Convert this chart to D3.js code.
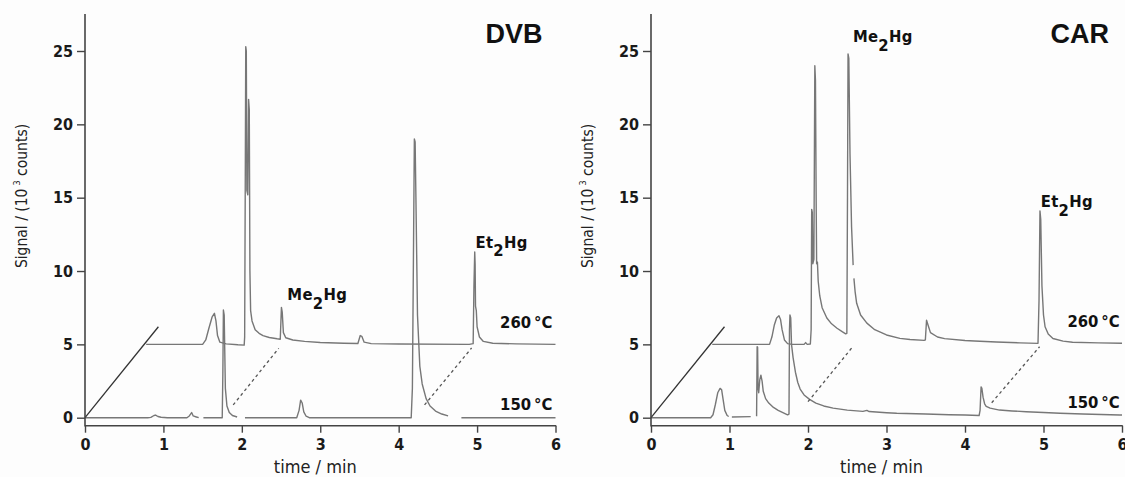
<!DOCTYPE html>
<html>
<head>
<meta charset="utf-8">
<script src="https://cdn.jsdelivr.net/npm/d3@7"></script>
<style>
  html, body { margin: 0; padding: 0; background: #fdfdfd; }
  svg { display: block; }
</style>
</head>
<body>
<svg id="chart" width="1125" height="477"></svg>
<script>
// ---- Data: chromatograms as [time (min), signal (10^3 counts)] ----
const timeTicks = [0, 1, 2, 3, 4, 5, 6];
const signalTicks = [0, 5, 10, 15, 20, 25];

// DVB fibre, desorbed at 260 °C (offset trace, baseline 5)
const dvb260 = [[
  [0.78,5.0],[1.50,5.0],[1.54,5.3],[1.58,6.1],[1.62,6.85],[1.65,7.12],[1.67,6.6],[1.69,5.6],
  [1.72,5.15],[1.80,5.03],[1.95,4.97],[2.03,4.95],[2.036,5.5],[2.043,15],[2.05,25.3],[2.057,25.0],
  [2.064,15.5],[2.076,15.2],[2.086,21.7],[2.095,21.0],[2.103,10],[2.112,7.3],[2.13,6.6],[2.17,6.0],
  [2.22,5.75],[2.27,5.6],[2.35,5.47],[2.45,5.38],[2.49,5.35],[2.505,7.52],[2.515,7.2],[2.53,5.8],
  [2.56,5.45],[2.65,5.3],[2.8,5.2],[3.0,5.13],[3.3,5.08],[3.48,5.06],[3.51,5.6],[3.53,5.55],
  [3.56,5.15],[3.65,5.05],[4.0,5.02],[4.9,5.0],[4.95,5.05],[4.96,9.0],[4.97,11.3],[4.975,10.5],
  [4.98,7.6],[4.99,7.3],[5.0,6.2],[5.03,5.5],[5.08,5.2],[5.2,5.08],[5.5,5.03],[6.0,5.0]
]];

// DVB fibre, desorbed at 150 °C (segments separated by gaps)
const dvb150 = [
  [[0,0],[0.8,0],[0.84,0.02],[0.88,0.15],[0.9,0.18],[0.93,0.08],[0.97,0.03],[1.05,0],[1.3,0],
   [1.33,0.12],[1.36,0.35],[1.38,0.12],[1.42,0.05],[1.45,0]],
  [[1.51,0],[1.75,0],[1.758,3],[1.765,7.34],[1.775,7.0],[1.79,2.0],[1.81,0.8],[1.84,0.35],
   [1.88,0.15],[1.94,0.05]],
  [[2.04,0],[2.7,0],[2.73,0.5],[2.75,1.2],[2.77,1.0],[2.79,0.4],[2.82,0.1],[2.86,0],[4.16,0],
   [4.175,2],[4.19,12],[4.2,19.0],[4.21,18.8],[4.22,15],[4.24,7],[4.27,3.5],[4.3,2.3],[4.35,1.3],
   [4.4,0.8],[4.47,0.45],[4.55,0.25],[4.63,0.12]],
  [[4.8,0],[6.0,0]]
];

// CAR fibre, desorbed at 260 °C
const car260 = [
  [[0.78,5.0],[1.51,5.0],[1.54,5.5],[1.57,6.3],[1.60,6.8],[1.63,6.95],[1.65,6.7],[1.67,6.0],
   [1.70,5.3],[1.74,5.05],[1.80,5.0],[1.95,5.0],[1.97,5.12],[1.99,5.0],[2.03,5.02],[2.04,6.0],
   [2.047,14.2],[2.055,14.0],[2.062,10.5],[2.075,10.8],[2.087,24.0],[2.095,23.0],[2.105,14.0],
   [2.11,10.5],[2.12,10.6],[2.13,9.3],[2.15,8.3],[2.18,7.5],[2.24,6.8],[2.3,6.4],[2.37,6.1],
   [2.44,5.85],[2.48,5.72],[2.495,5.75],[2.503,15],[2.51,24.8],[2.52,24.5],[2.535,18],
   [2.555,13],[2.575,10.4]],
  [[2.585,9.5],[2.6,8.6],[2.62,7.8],[2.67,7.0],[2.75,6.45],[2.85,6.0],[3.0,5.64],[3.17,5.41],
   [3.3,5.33],[3.48,5.27],[3.495,5.3],[3.51,6.64],[3.53,6.3],[3.56,5.8],[3.65,5.5],[3.74,5.39],
   [4.0,5.26],[4.12,5.23],[4.4,5.16],[4.7,5.1],[4.93,5.07],[4.943,8],[4.955,14.1],[4.965,13.5],
   [4.98,9],[5.0,7.0],[5.02,6.2],[5.06,5.7],[5.12,5.4],[5.25,5.22],[5.37,5.14],[5.7,5.1],[6.0,5.08]]
];

// CAR fibre, desorbed at 150 °C
const car150 = [
  [[0,0],[0.76,0],[0.79,0.2],[0.82,0.9],[0.85,1.7],[0.88,2.0],[0.9,1.9],[0.92,1.2],[0.94,0.5],
   [0.97,0.15],[0.99,0.08]],
  [[1.03,0.05],[1.27,0.07]],
  [[1.345,0.1],[1.352,4.84],[1.358,4.8],[1.364,2.0],[1.372,1.7],[1.386,2.6],[1.40,2.9],[1.415,2.5],
   [1.43,1.8],[1.46,1.3],[1.5,1.0],[1.56,0.7],[1.62,0.5],[1.68,0.35],[1.74,0.2],[1.758,0.25],
   [1.764,6],[1.77,7.0],[1.78,6.8],[1.79,5.0],[1.81,4.1],[1.84,3.1],[1.87,2.4],[1.9,1.95],
   [1.95,1.55],[2.02,1.25],[2.1,1.0],[2.2,0.8],[2.32,0.65],[2.5,0.52],[2.7,0.43],[2.75,0.5],
   [2.78,0.42],[3.0,0.34],[3.13,0.3],[3.5,0.25],[3.8,0.2],[4.0,0.18],[4.18,0.15],[4.192,0.5],
   [4.205,2.1],[4.215,2.0],[4.23,1.4],[4.25,0.95],[4.27,0.78],[4.32,0.65],[4.44,0.52],[4.6,0.46],
   [4.78,0.41],[5.0,0.35],[5.21,0.3],[5.5,0.25],[5.97,0.18],[6.0,0.18]]
];

// Offset guide (origin of the 150 °C trace to the 260 °C trace start)
const offsetGuide = [[0,0],[0.936,6.2]];

// Dashed links between the same compound in both traces
const dvbLinks = [[[1.89,0.87],[2.47,4.73]], [[4.33,0.87],[4.93,4.75]]];
const carLinks = [[[2.0,1.09],[2.57,4.84]], [[4.34,1.02],[4.95,4.84]]];

// ---- Layout ----
const svg = d3.select("#chart");
const panels = [
  { title: "DVB", left: 85, right: 555.5, hot: dvb260, cold: dvb150, links: dvbLinks,
    me: [2.58, 8.0], et: [4.98, 11.6], t260: [5.96, 6.1], t150: [5.96, 0.52] },
  { title: "CAR", left: 651, right: 1122, hot: car260, cold: car150, links: carLinks,
    me: [2.572, 25.6], et: [4.965, 14.35], t260: [5.97, 6.2], t150: [5.97, 0.68] }
];

const axisY = 425.7, axisTop = 14;
const tickFont = "'DejaVu Sans Condensed', 'DejaVu Sans', sans-serif";

panels.forEach(p => {
  const x = d3.scaleLinear().domain([0, 6]).range([p.left, p.right]);
  const y = d3.scaleLinear().domain([0, 25]).range([417.7, 51]);
  const g = svg.append("g");
  const line = d3.line().x(d => x(d[0])).y(d => y(d[1]));

  // traces
  [...p.hot, ...p.cold].forEach(seg => {
    g.append("path").attr("d", line(seg))
      .attr("fill", "none").attr("stroke", "#777")
      .attr("stroke-width", 1.4).attr("stroke-linejoin", "round");
  });

  // offset guide line
  g.append("path").attr("d", line(offsetGuide))
    .attr("fill", "none").attr("stroke", "#333").attr("stroke-width", 1.3);

  // dashed links
  p.links.forEach(l => {
    g.append("path").attr("d", line(l))
      .attr("fill", "none").attr("stroke", "#555")
      .attr("stroke-width", 1.3).attr("stroke-dasharray", "3,3");
  });

  // y axis
  const ya = g.append("g").attr("transform", `translate(${p.left},0)`)
    .call(d3.axisLeft(y).tickValues(signalTicks).tickSize(8).tickPadding(4));
  ya.select(".domain").remove();
  // x axis
  const xa = g.append("g").attr("transform", `translate(0,${axisY})`)
    .call(d3.axisBottom(x).tickValues(timeTicks).tickFormat(d3.format("d")).tickSize(7).tickPadding(6));
  xa.select(".domain").remove();
  [ya, xa].forEach(a => {
    a.selectAll("line").attr("stroke", "#444").attr("stroke-width", 1.4);
    a.selectAll("text").attr("fill", "#1a1a1a")
      .style("font-family", tickFont).style("font-weight", "bold").style("font-size", "16px");
  });
  g.append("line").attr("x1", p.left).attr("x2", p.left).attr("y1", axisTop).attr("y2", axisY + 0.7)
    .attr("stroke", "#444").attr("stroke-width", 1.6);
  g.append("line").attr("x1", p.left).attr("x2", p.right + 0.7).attr("y1", axisY).attr("y2", axisY)
    .attr("stroke", "#444").attr("stroke-width", 1.6);

  // axis titles
  g.append("text").attr("x", (p.left + p.right) / 2 - 5).attr("y", 473)
    .attr("text-anchor", "middle").attr("fill", "#222")
    .style("font-family", tickFont).style("font-size", "18px").text("time / min");
  const yl = g.append("text")
    .attr("transform", `translate(${p.left - 58},196) rotate(-90)`)
    .attr("text-anchor", "middle").attr("fill", "#222")
    .style("font-family", tickFont).style("font-size", "15.5px");
  yl.append("tspan").text("Signal / (10");
  yl.append("tspan").attr("dy", -7).attr("dx", 3).style("font-size", "9px").text("3");
  yl.append("tspan").attr("dy", 7).text(" counts)");

  // panel title
  g.append("text").attr("x", p.right - 13).attr("y", 43.3).attr("text-anchor", "end")
    .attr("fill", "#111")
    .style("font-family", "'Liberation Sans', Arial, sans-serif")
    .style("font-weight", "bold").style("font-size", "27px").text(p.title);

  // compound labels with subscript
  const sub = (pos, a, b) => {
    const t = g.append("text").attr("x", x(pos[0])).attr("y", y(pos[1])).attr("fill", "#111")
      .style("font-family", tickFont).style("font-weight", "bold").style("font-size", "16.5px")
      .style("letter-spacing", "0.3px");
    t.append("tspan").text(a);
    t.append("tspan").attr("dy", 8.5).text("2");
    t.append("tspan").attr("dy", -8.5).text(b);
  };
  sub(p.me, "Me", "Hg");
  sub(p.et, "Et", "Hg");

  // temperature labels
  [[p.t260, "260\u2009°C"], [p.t150, "150\u2009°C"]].forEach(([pos, s]) => {
    g.append("text").attr("x", x(pos[0])).attr("y", y(pos[1])).attr("text-anchor", "end")
      .attr("fill", "#111")
      .style("font-family", tickFont).style("font-weight", "bold").style("font-size", "16.5px")
      .text(s);
  });
});
</script>
</body>
</html>
